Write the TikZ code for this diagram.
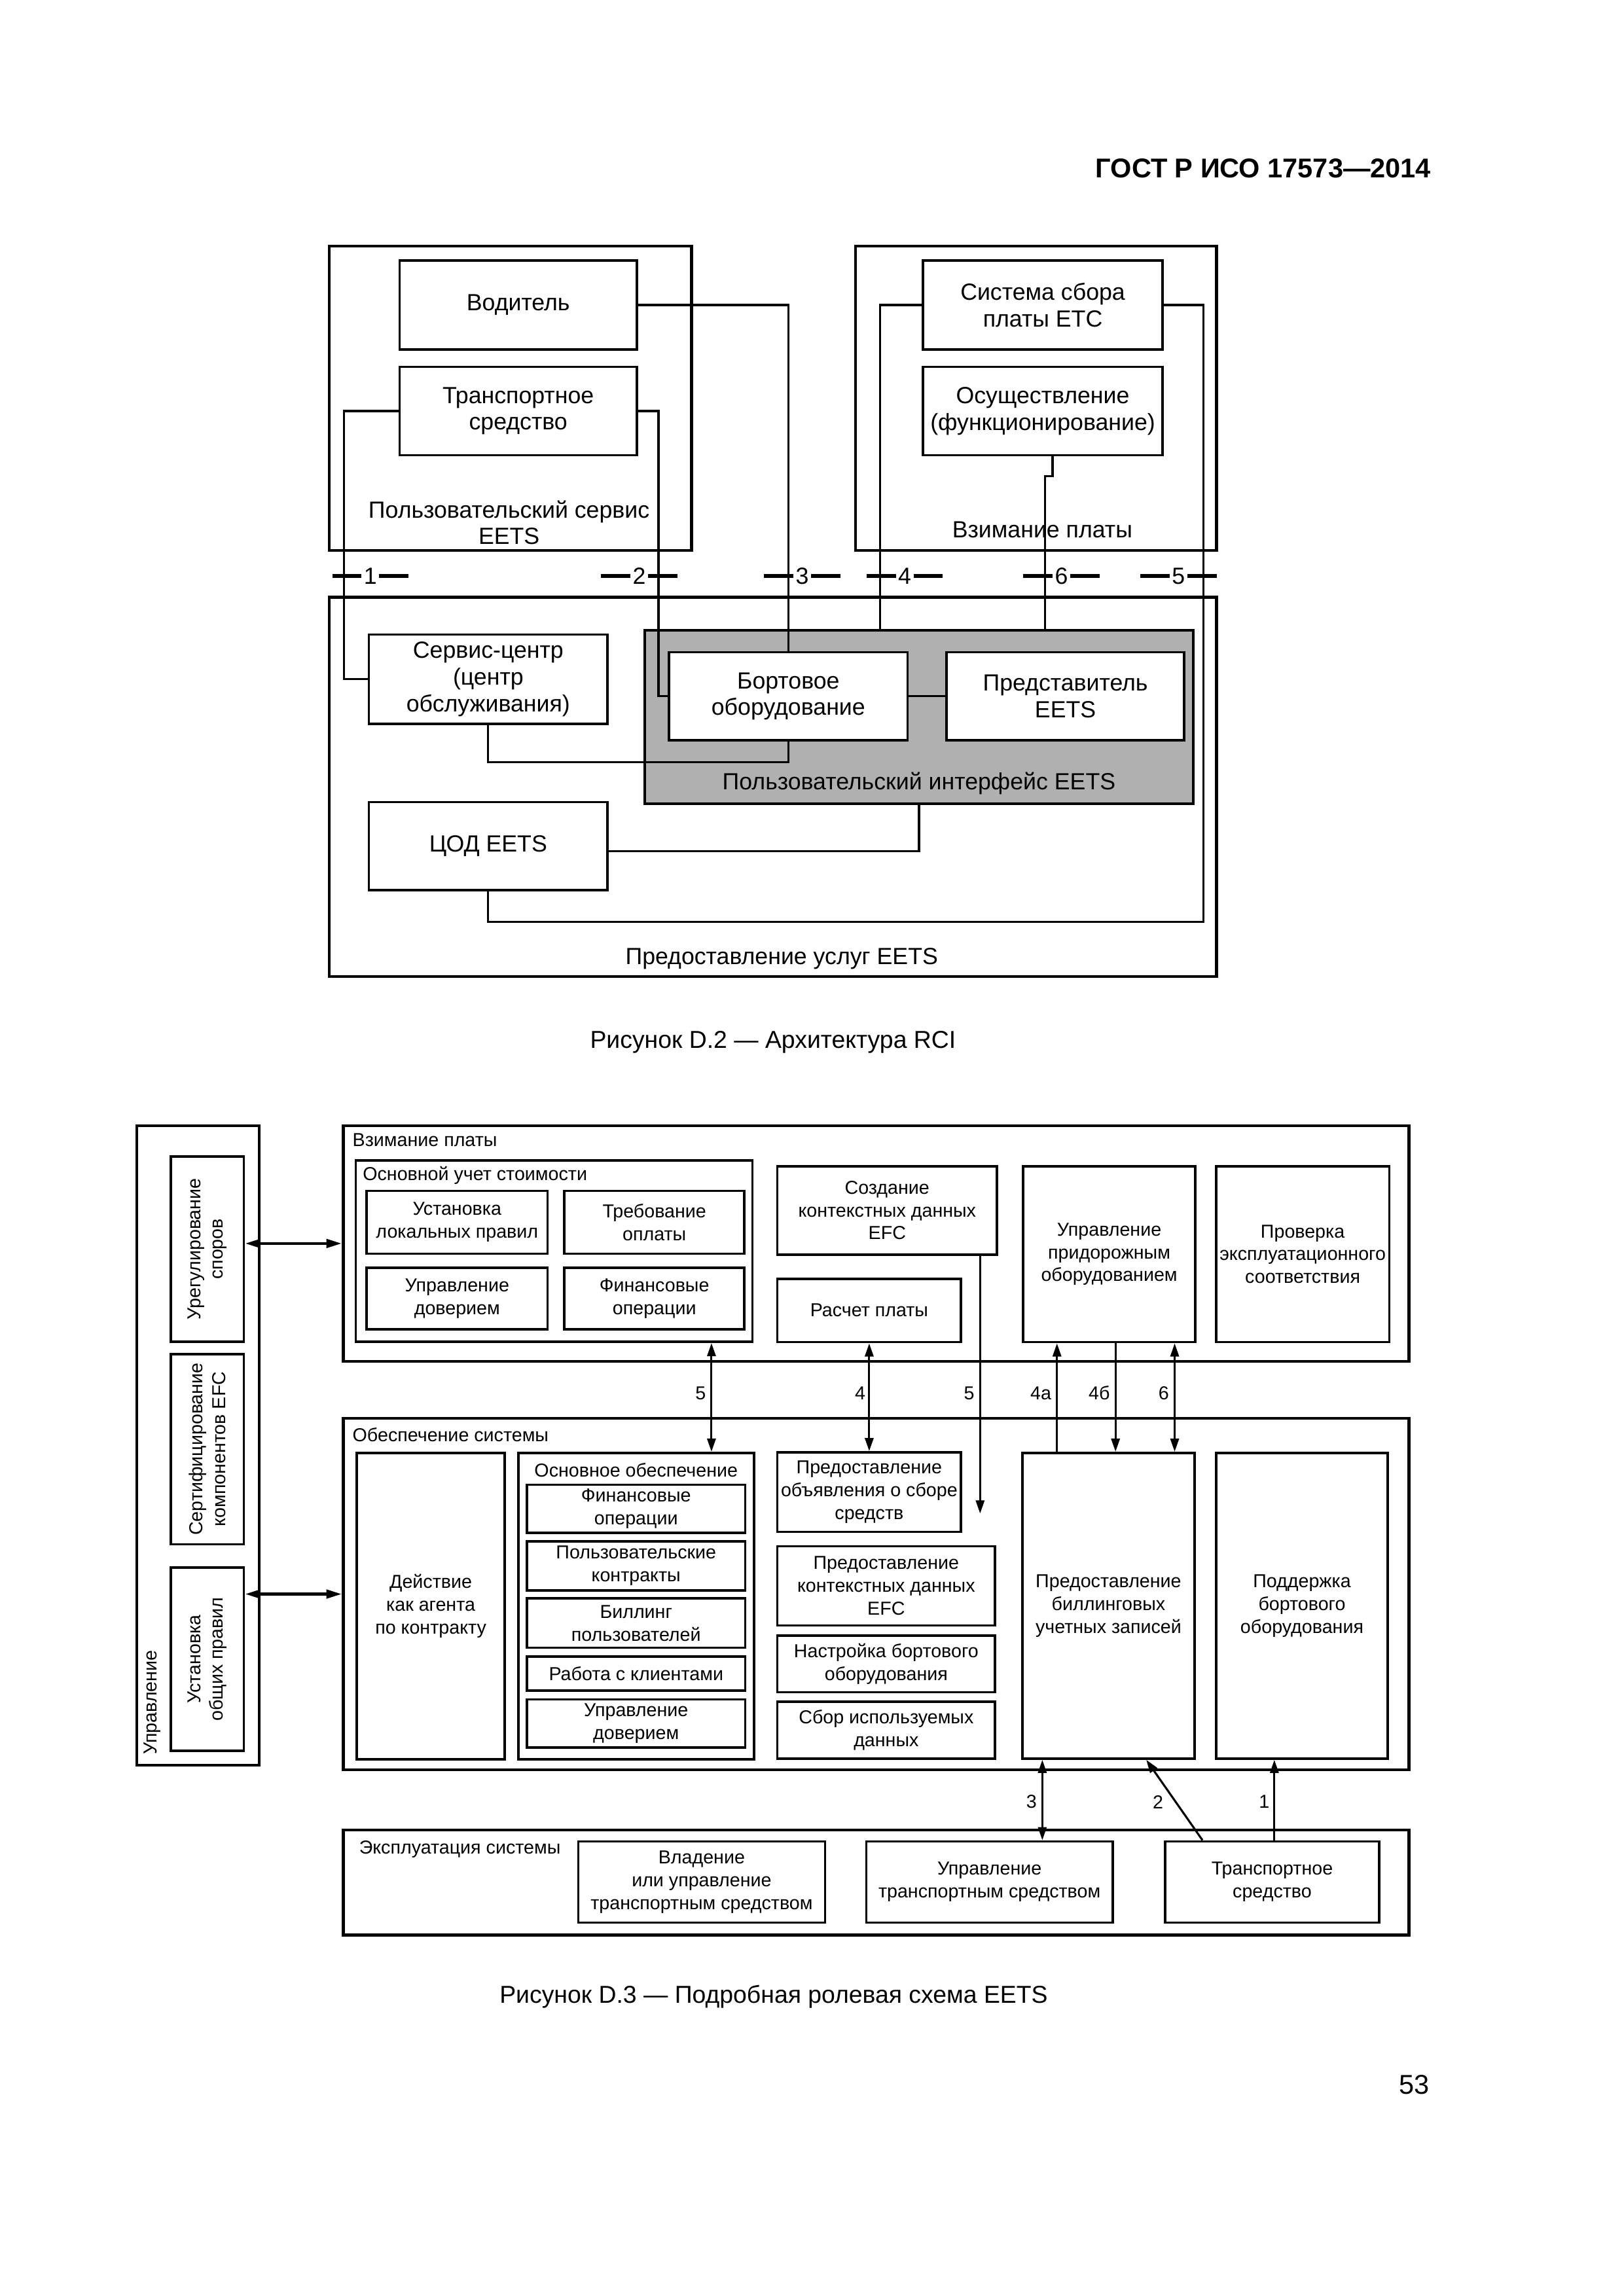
\documentclass[tikz,border=0pt]{standalone}
\usepackage{fontspec}
\setmainfont{Liberation Sans}
\usetikzlibrary{arrows.meta, positioning, calc}

\newdimen\pxu
\pxu=0.18934mm
\definecolor{uigray}{gray}{0.69}

\begin{document}
\begin{tikzpicture}[
    x=0.18934mm, y=-0.18934mm,
    >={Triangle[length=1.7mm, width=1.1mm]},
    boxsize/.style 2 args={minimum width=#1*\pxu, minimum height=#2*\pxu},
    box/.style={draw, line width=0.9pt, inner sep=0pt, align=center},
    areabox/.style={draw, line width=1.05pt, inner sep=0pt},
    bigtext/.style={font=\fontsize{8.6}{9.8}\selectfont},
    smalltext/.style={font=\fontsize{6.9}{8.4}\selectfont},
    lbl/.style={font=\fontsize{6.9}{8.4}\selectfont, inner sep=0pt},
    link/.style={line width=0.75pt},
    arrow/.style={line width=0.75pt},
    mgmtarrow/.style={line width=1.1pt, >={Triangle[length=2mm, width=1.1mm]}},
    cutmark/.style={line width=1.6pt}
  ]
  \useasboundingbox (0,0) rectangle (210mm,-297mm);

  % Header
  \node[font=\bfseries\fontsize{10}{12}\selectfont, anchor=east] (gost) at (984,115) {ГОСТ Р ИСО 17573—2014};

  % ---------------- Figure D.2 ----------------
  % Areas
  \node[areabox, boxsize={247.4}{208}] (usr) at (348.7,272) {};
  \node[bigtext, align=center] (usrlbl) at (347.7,357) {Пользовательский сервис\\EETS};
  \node[areabox, boxsize={246.6}{208}] (toll) at (707.7,272) {};
  \node[bigtext] (tolllbl) at (712,362) {Взимание платы};
  \node[areabox, boxsize={606}{259}] (prov) at (528,537.5) {};
  \node[bigtext] (provlbl) at (534,655) {Предоставление услуг EETS};

  % Roles
  \node[box, bigtext, boxsize={162}{60.7}] (driver) at (354,208.35) {Водитель};
  \node[box, bigtext, boxsize={162}{60.4}] (vehicle) at (354,280.8) {Транспортное\\средство};
  \node[box, bigtext, boxsize={163.4}{60.7}] (etc) at (712.3,208.35) {Система сбора\\платы ETC};
  \node[box, bigtext, boxsize={163.4}{60.4}] (oper) at (712.3,280.8) {Осуществление\\(функционирование)};

  % User interface (grey)
  \node[draw, fill=uigray, line width=0.9pt, inner sep=0pt, boxsize={374.5}{118.4}] (ui) at (627.75,489.8) {};
  \node[bigtext] (uilbl) at (627.75,535) {Пользовательский интерфейс EETS};
  \node[box, bigtext, fill=white, boxsize={163}{61}] (svc) at (333.5,464) {Сервис-центр\\(центр\\обслуживания)};
  \node[box, bigtext, fill=white, boxsize={163}{60.2}] (obu) at (538.5,475.7) {Бортовое\\оборудование};
  \node[box, bigtext, fill=white, boxsize={162.5}{60.2}] (rep) at (727.75,475.7) {Представитель\\EETS};
  \node[box, bigtext, boxsize={163}{60}] (dc) at (333.5,578) {ЦОД EETS};

  % Interface cut marks 1..6
  \foreach \xc/\num [count=\i] in {253/1, 436.6/2, 548/3, 618/4, 725/6, 805/5} {
    \draw[cutmark] (\xc-26,393.5) -- (\xc-6,393.5);
    \draw[cutmark] (\xc+6,393.5) -- (\xc+26,393.5);
    \node[bigtext, inner sep=0pt] (cut\i) at (\xc,393.5) {\num};
  }

  % Links
  \coordinate (r5) at (822,629.6);
  \draw[link] (driver.east) -| (obu.north);
  \draw[link] (vehicle.west) -- ++(-37,0) |- (svc.west);
  \draw[link] (vehicle.east) -- ++(14,0) |- (obu.west);
  \draw[link] (etc.west) -- ++(-28.6,0) coordinate (c4) -- (c4 |- ui.north);
  \draw[link] ([xshift=6.7*\pxu]oper.south) -- ++(0,13.4) -- ++(-5,0) coordinate (c6) -- (c6 |- ui.north);
  \draw[link] (etc.east) -| (r5) -| (dc.south);
  \draw[link] (svc.south) -- ++(0,25.3) -| (obu.south);
  \draw[link] ([yshift=-3.5*\pxu]dc.east) -| (ui.south);
  \draw[link] (obu.east) -- (rep.west);

  \node[font=\fontsize{9}{11}\selectfont] (cap2) at (528,712) {Рисунок D.2 — Архитектура RCI};

  % ---------------- Figure D.3 ----------------
  % Management column
  \node[areabox, boxsize={83.5}{437}] (mgmt) at (135.25,987.5) {};
  \node[lbl, rotate=90, anchor=west] (mgmtlbl) at (104,1199) {Управление};
  \node[box, boxsize={49.9}{126.6}] (dispute) at (141.55,853.3) {};
  \node[smalltext, rotate=90, align=center] (disputetxt) at (dispute) {Урегулирование\\споров};
  \node[box, boxsize={49.9}{130}] (certify) at (141.55,990) {};
  \node[smalltext, rotate=90, align=center] (certifytxt) at (certify) {Сертифицирование\\компонентов EFC};
  \node[box, boxsize={49.9}{125}] (genrules) at (141.55,1133.5) {};
  \node[smalltext, rotate=90, align=center] (genrulestxt) at (genrules) {Установка\\общих правил};

  % Toll charging
  \node[areabox, boxsize={728}{161}] (toll2) at (598.5,849.5) {};
  \node[lbl, anchor=west] (toll2lbl) at (240.5,779) {Взимание платы};
  \node[box, boxsize={271}{124.1}] (costcore) at (378.5,854.65) {};
  \node[lbl, anchor=west] (costlbl) at (247.5,803) {Основной учет стоимости};
  \node[box, smalltext, boxsize={123.5}{43}] (localrules) at (312.25,835) {Установка\\локальных правил};
  \node[box, smalltext, boxsize={123}{43}] (paydemand) at (447,835) {Требование\\оплаты};
  \node[box, smalltext, boxsize={123.5}{42}] (trustmgmt) at (312.25,887) {Управление\\доверием};
  \node[box, smalltext, boxsize={123}{42}] (fin) at (447,887) {Финансовые\\операции};
  \node[box, smalltext, boxsize={150}{60.3}] (context) at (606,826.85) {Создание\\контекстных данных\\EFC};
  \node[box, smalltext, boxsize={125.5}{43.3}] (feecalc) at (593.75,895.25) {Расчет платы};
  \node[box, smalltext, boxsize={117.4}{120.2}] (rse) at (757.7,856.8) {Управление\\придорожным\\оборудованием};
  \node[box, smalltext, boxsize={118.3}{120.2}] (compliance) at (889.85,856.8) {Проверка\\эксплуатационного\\соответствия};

  % System support
  \node[areabox, boxsize={728}{240}] (supply) at (598.5,1089) {};
  \node[lbl, anchor=west] (supplylbl) at (240.5,980) {Обеспечение системы};
  \node[box, smalltext, boxsize={100.9}{209.4}] (agent) at (294.25,1097.3) {Действие\\как агента\\по контракту};
  \node[box, boxsize={161}{209.4}] (coresup) at (434.5,1097.3) {};
  \node[lbl] (coresuplbl) at (434.5,1004.4) {Основное обеспечение};
  \node[box, smalltext, boxsize={149}{33}] (fin2) at (434.5,1030.8) {Финансовые\\операции};
  \node[box, smalltext, boxsize={149}{33.5}] (contracts) at (434.5,1069.75) {Пользовательские\\контракты};
  \node[box, smalltext, boxsize={149}{33.7}] (billing) at (434.5,1108.85) {Биллинг\\пользователей};
  \node[box, smalltext, boxsize={149}{23.2}] (customers) at (434.5,1143.4) {Работа с клиентами};
  \node[box, smalltext, boxsize={149}{33}] (trust2) at (434.5,1177.5) {Управление\\доверием};
  \node[box, smalltext, boxsize={125.5}{54.3}] (notice) at (593.75,1019.35) {Предоставление\\объявления о сборе\\средств};
  \node[box, smalltext, boxsize={148.7}{54.1}] (context2) at (605.35,1083.35) {Предоставление\\контекстных данных\\EFC};
  \node[box, smalltext, boxsize={148.7}{38.7}] (obuset) at (605.35,1136.65) {Настройка бортового\\оборудования};
  \node[box, smalltext, boxsize={148.7}{38.8}] (usage) at (605.35,1182) {Сбор используемых\\данных};
  \node[box, smalltext, boxsize={117.6}{208.8}] (records) at (757.2,1097) {Предоставление\\биллинговых\\учетных записей};
  \node[box, smalltext, boxsize={117.3}{208.8}] (obusup) at (889.35,1097) {Поддержка\\бортового\\оборудования};

  % System operation
  \node[areabox, boxsize={728}{71.7}] (ops) at (598.5,1286.15) {};
  \node[lbl, anchor=west] (opslbl) at (245,1263.5) {Эксплуатация системы};
  \node[box, smalltext, boxsize={168.6}{55.4}] (owner) at (479.3,1285.7) {Владение\\или управление\\транспортным средством};
  \node[box, smalltext, boxsize={168.2}{55.4}] (driving) at (675.9,1285.7) {Управление\\транспортным средством};
  \node[box, smalltext, boxsize={146}{55.4}] (veh) at (869,1285.7) {Транспортное\\средство};

  % Flows
  \coordinate (x5) at (486,0);
  \coordinate (x4a) at (722,0);
  \coordinate (x4b) at (762,0);
  \coordinate (x6) at (802.4,0);
  \coordinate (x3) at (712,0);
  \coordinate (x1) at (870.5,0);
  \coordinate (end5) at (669.5,1034);

  \draw[mgmtarrow, <->] (dispute.east |- toll2.west) -- (toll2.west);
  \draw[mgmtarrow, <->] (genrules.east |- supply.west) -- (supply.west);

  \draw[arrow, <->] (x5 |- costcore.south) -- (x5 |- coresup.north);
  \draw[arrow, <->] (feecalc.south) -- (notice.north);
  \draw[arrow, ->] (end5 |- context.south) -- (end5);
  \draw[arrow, ->] (x4a |- records.north) -- (x4a |- rse.south);
  \draw[arrow, ->] (x4b |- rse.south) -- (x4b |- records.north);
  \draw[arrow, <->] (x6 |- rse.south) -- (x6 |- records.north);
  \draw[arrow, <->] (x3 |- records.south) -- (x3 |- driving.north);
  \draw[arrow, ->] ([xshift=-47.6*\pxu]veh.north) -- ([xshift=25.8*\pxu]records.south);
  \draw[arrow, ->] (x1 |- veh.north) -- (x1 |- obusup.south);

  % Flow numbers
  \foreach \xa/\txt [count=\i] in {486/5, 595/4, 669.5/5, 722/4а, 762/4б, 802.4/6} {
    \node[lbl, anchor=east] (flow\i) at (\xa-3.5,951.7) {\txt};
  }
  \node[lbl, anchor=east] (flow7) at (708.5,1231) {3};
  \node[lbl] (flow8) at (791,1231) {2};
  \node[lbl, anchor=east] (flow9) at (867.5,1231) {1};

  \node[font=\fontsize{9}{11}\selectfont] (cap3) at (528.5,1364) {Рисунок D.3 — Подробная ролевая схема EETS};

  \node[font=\fontsize{10}{12}\selectfont] (pageno) at (966,1424) {53};
\end{tikzpicture}
\end{document}
